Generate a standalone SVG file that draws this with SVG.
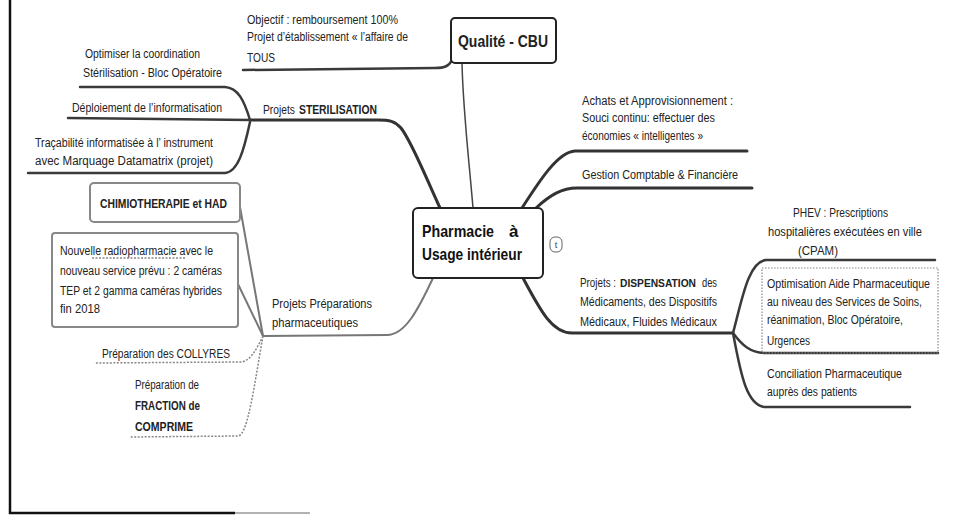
<svg xmlns="http://www.w3.org/2000/svg" width="959" height="517" viewBox="0 0 959 517">
<style>
.t{font-family:"Liberation Sans Narrow","Liberation Sans",Arial,sans-serif;font-size:12px;fill:#222}
.b{font-weight:bold}
.big{font-family:"Liberation Sans Narrow","Liberation Sans",Arial,sans-serif;font-size:17px;font-weight:bold;fill:#111}
.br{fill:none;stroke:#333;stroke-width:3;stroke-linecap:round}
.br2{fill:none;stroke:#3a3a3a;stroke-width:2.5;stroke-linecap:round}
.thin{fill:none;stroke:#444;stroke-width:1.5}
.gray{fill:none;stroke:#777;stroke-width:2;stroke-linecap:round}
.dot{fill:none;stroke:#888;stroke-width:1.5;stroke-dasharray:2 1.5}
.box{fill:#fff;stroke:#222;stroke-width:2}
.gbox{fill:#fff;stroke:#888;stroke-width:2}
.dbox{fill:none;stroke:#888;stroke-width:1.2;stroke-dasharray:1.5 1.5}
</style>
<rect width="959" height="517" fill="#fff"/>
<!-- page border -->
<path d="M10,0 L10,513 L235,513" fill="none" stroke="#111" stroke-width="2.5"/>
<path d="M235,513 L310,513" fill="none" stroke="#999" stroke-width="1.5"/>

<g id="connectors">
  <!-- Qualité -->
  <path class="br2" d="M452,60 C449,66 445,68 435,68 L243,70"/>
  <path class="thin" d="M462,63 C463,110 469,160 473,208"/>
  <!-- Stérilisation -->
  <path class="br" d="M440,208 C426,178 412,142 401,128 C395,121 389,120 378,120 L250,120"/>
  <path class="br2" d="M250,120 C244,100 238,88 225,87 L80,87"/>
  <path class="br2" d="M250,120 L68,118"/>
  <path class="br2" d="M250,122 C244,150 238,172 225,173 L28,173"/>
  <!-- Achats / Gestion -->
  <path class="br" d="M522,208 C540,180 558,152 575,151 L747,151"/>
  <path class="br" d="M536,208 C550,195 562,188 577,188 L752,188"/>
  <!-- Dispensation -->
  <path class="br" d="M523,278 C540,310 552,333 572,333 L733,333"/>
  <path class="br2" d="M733,333 C742,300 748,262 766,260 L935,260"/>
  <path class="br2" d="M733,333 C742,345 750,353 766,353 L938,353"/>
  <path class="br2" d="M733,333 C740,370 746,407 766,407 L910,407"/>
  <!-- Préparations -->
  <path class="gray" d="M433,278 C418,310 405,335 387,335 L263,336"/>
  <path class="gray" d="M240,207 L263,336"/>
  <path class="gray" d="M237,282 L263,336"/>
  <path class="dot" d="M263,336 C256,350 250,362 240,362 L95,363"/>
  <path class="dot" d="M263,336 C255,380 248,436 238,436 L130,437"/>
</g>

<g id="central">
  <rect class="box" x="413" y="208" width="130" height="70" rx="5"/>
  <text class="big" x="422" y="237" textLength="72" lengthAdjust="spacingAndGlyphs">Pharmacie</text>
  <text class="big" x="509" y="237">à</text>
  <text class="big" x="422" y="260" textLength="100" lengthAdjust="spacingAndGlyphs">Usage intérieur</text>
  <rect x="550" y="237" width="12" height="15" rx="5" fill="none" stroke="#666" stroke-width="1"/>
  <text x="556" y="248" text-anchor="middle" style="font-family:'Liberation Sans',sans-serif;font-size:9px;fill:#444">t</text>
</g>

<g id="qualite">
  <rect class="box" x="451" y="18" width="105" height="45" rx="4"/>
  <text class="t b" x="458" y="47" style="font-size:16px" textLength="90" lengthAdjust="spacingAndGlyphs">Qualité - CBU</text>
</g>

<g id="objectif">
  <text class="t" x="247" y="24" textLength="151" lengthAdjust="spacingAndGlyphs">Objectif : remboursement 100%</text>
  <text class="t" x="247" y="41" textLength="161" lengthAdjust="spacingAndGlyphs">Projet d’établissement « l’affaire de</text>
  <text class="t" x="247" y="62" textLength="28" lengthAdjust="spacingAndGlyphs">TOUS</text>
</g>

<g id="sterilisation">
  <text class="t" x="263" y="114" textLength="32" lengthAdjust="spacingAndGlyphs">Projets</text>
  <text class="t b" x="299" y="114" textLength="78" lengthAdjust="spacingAndGlyphs">STERILISATION</text>
</g>

<g id="coordination">
  <text class="t" x="85" y="58" textLength="115" lengthAdjust="spacingAndGlyphs">Optimiser la coordination</text>
  <text class="t" x="83" y="77" textLength="139" lengthAdjust="spacingAndGlyphs">Stérilisation - Bloc Opératoire</text>
</g>

<g id="informatisation">
  <text class="t" x="72" y="112" textLength="150" lengthAdjust="spacingAndGlyphs">Déploiement de l’informatisation</text>
</g>

<g id="tracabilite">
  <text class="t" x="35" y="147" textLength="178" lengthAdjust="spacingAndGlyphs">Traçabilité informatisée à l’ instrument</text>
  <text class="t" x="35" y="165" textLength="178" lengthAdjust="spacingAndGlyphs">avec Marquage Datamatrix (projet)</text>
</g>

<g id="chimio">
  <rect class="gbox" x="90" y="183" width="150" height="39" rx="4"/>
  <text class="t b" x="100" y="208" textLength="127" lengthAdjust="spacingAndGlyphs">CHIMIOTHERAPIE et HAD</text>
</g>

<g id="radiopharmacie">
  <rect class="gbox" x="52" y="233" width="186" height="94" rx="3"/>
  <text class="t" x="60" y="255" textLength="153" lengthAdjust="spacingAndGlyphs">Nouvelle radiopharmacie avec le</text>
  <path class="dot" d="M92,258 L185,258" stroke-width="1"/>
  <text class="t" x="60" y="275" textLength="162" lengthAdjust="spacingAndGlyphs">nouveau service prévu : 2 caméras</text>
  <text class="t" x="60" y="295" textLength="162" lengthAdjust="spacingAndGlyphs">TEP et 2 gamma caméras hybrides</text>
  <text class="t" x="60" y="313" textLength="40" lengthAdjust="spacingAndGlyphs">fin 2018</text>
</g>

<g id="preparations">
  <text class="t" x="272" y="308" textLength="100" lengthAdjust="spacingAndGlyphs">Projets Préparations</text>
  <text class="t" x="272" y="327" textLength="86" lengthAdjust="spacingAndGlyphs">pharmaceutiques</text>
</g>

<g id="collyres">
  <text class="t" x="102" y="358" textLength="128" lengthAdjust="spacingAndGlyphs">Préparation des COLLYRES</text>
</g>

<g id="fraction">
  <text class="t" x="135" y="389" textLength="64" lengthAdjust="spacingAndGlyphs">Préparation de</text>
  <text class="t b" x="135" y="410" textLength="65" lengthAdjust="spacingAndGlyphs">FRACTION de</text>
  <text class="t b" x="135" y="431" textLength="58" lengthAdjust="spacingAndGlyphs">COMPRIME</text>
</g>

<g id="achats">
  <text class="t" x="582" y="105" textLength="151" lengthAdjust="spacingAndGlyphs">Achats et Approvisionnement :</text>
  <text class="t" x="582" y="122" textLength="133" lengthAdjust="spacingAndGlyphs">Souci continu: effectuer des</text>
  <text class="t" x="582" y="140" textLength="121" lengthAdjust="spacingAndGlyphs">économies « intelligentes »</text>
</g>

<g id="gestion">
  <text class="t" x="582" y="179" textLength="156" lengthAdjust="spacingAndGlyphs">Gestion Comptable &amp; Financière</text>
</g>

<g id="dispensation">
  <text class="t" x="580" y="287" textLength="36" lengthAdjust="spacingAndGlyphs">Projets :</text>
  <text class="t b" x="620" y="287" style="font-size:10.5px" textLength="76" lengthAdjust="spacingAndGlyphs">DISPENSATION</text>
  <text class="t" x="702" y="287" textLength="15" lengthAdjust="spacingAndGlyphs">des</text>
  <text class="t" x="580" y="306" textLength="137" lengthAdjust="spacingAndGlyphs">Médicaments, des Dispositifs</text>
  <text class="t" x="580" y="326" textLength="137" lengthAdjust="spacingAndGlyphs">Médicaux, Fluides Médicaux</text>
</g>

<g id="phev">
  <text class="t" x="793" y="217" textLength="95" lengthAdjust="spacingAndGlyphs">PHEV : Prescriptions</text>
  <text class="t" x="768" y="236" textLength="154" lengthAdjust="spacingAndGlyphs">hospitalières exécutées en ville</text>
  <text class="t" x="798" y="255" textLength="40" lengthAdjust="spacingAndGlyphs">(CPAM)</text>
</g>

<g id="optimisation">
  <rect class="dbox" x="762" y="268" width="176" height="85"/>
  <text class="t" x="767" y="288" textLength="163" lengthAdjust="spacingAndGlyphs">Optimisation Aide Pharmaceutique</text>
  <text class="t" x="767" y="306" textLength="155" lengthAdjust="spacingAndGlyphs">au niveau des Services de Soins,</text>
  <text class="t" x="767" y="324" textLength="136" lengthAdjust="spacingAndGlyphs">réanimation, Bloc Opératoire,</text>
  <text class="t" x="767" y="345" textLength="43" lengthAdjust="spacingAndGlyphs">Urgences</text>
</g>

<g id="conciliation">
  <text class="t" x="767" y="378" textLength="135" lengthAdjust="spacingAndGlyphs">Conciliation Pharmaceutique</text>
  <text class="t" x="767" y="396" textLength="90" lengthAdjust="spacingAndGlyphs">auprès des patients</text>
</g>
</svg>
